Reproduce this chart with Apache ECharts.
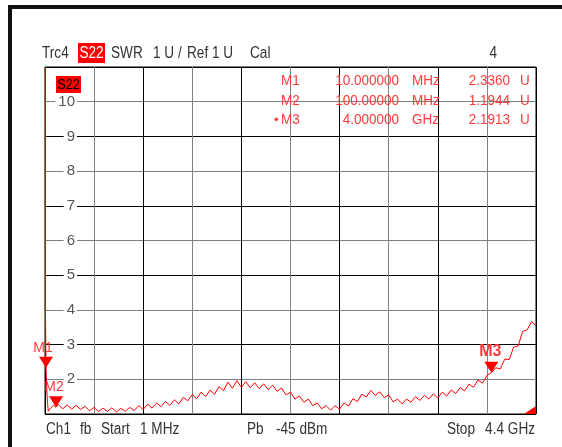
<!DOCTYPE html>
<html>
<head>
<meta charset="utf-8">
<script src="https://cdn.jsdelivr.net/npm/echarts@6/dist/echarts.min.js"></script>
<style>
  html, body { margin: 0; padding: 0; background: #fff; }
  #chart { width: 562px; height: 447px; }
</style>
</head>
<body>
<div id="chart"></div>
<script>
// frequency sweep points, MHz
const freqs = [1, 5, 10, 20, 30, 40, 60, 80, 100,
  120, 160, 200, 240, 280, 320, 360, 400, 440, 480, 520, 560, 600, 640, 680, 720, 760, 800,
  840, 880, 920, 960, 1000, 1040, 1080, 1120, 1160, 1200, 1240, 1280, 1320, 1360, 1400,
  1440, 1480, 1520, 1560, 1600, 1640, 1680, 1720, 1760, 1800, 1840, 1880, 1920, 1960, 2000,
  2040, 2080, 2120, 2160, 2200, 2240, 2280, 2320, 2360, 2400, 2440, 2480, 2520, 2560, 2600,
  2640, 2680, 2720, 2760, 2800, 2840, 2880, 2920, 2960, 3000, 3040, 3080, 3120, 3160, 3200,
  3240, 3280, 3320, 3360, 3400, 3440, 3480, 3520, 3560, 3600, 3640, 3680, 3720, 3760, 3800,
  3840, 3880, 3920, 3960, 4000, 4040, 4080, 4120, 4160, 4200, 4240, 4280, 4320, 4360, 4400]
const swr = [30, 4, 2.336, 1.5, 1.08, 1.05, 1.2, 1.25, 1.19,
  1.27, 1.15, 1.26, 1.14, 1.25, 1.13, 1.22, 1.09, 1.19, 1.07, 1.17, 1.07, 1.18, 1.06, 1.16, 1.08, 1.19, 1.1,
  1.24, 1.13, 1.28, 1.17, 1.32, 1.21, 1.36, 1.25, 1.41, 1.29, 1.48, 1.38, 1.56, 1.44, 1.63,
  1.5, 1.69, 1.57, 1.79, 1.67, 1.92, 1.74, 1.96, 1.77, 1.93, 1.76, 1.9, 1.73, 1.87, 1.7,
  1.83, 1.65, 1.75, 1.55, 1.63, 1.43, 1.52, 1.34, 1.43, 1.24, 1.32, 1.15, 1.24, 1.11, 1.24,
  1.14, 1.32, 1.23, 1.44, 1.36, 1.57, 1.49, 1.68, 1.53, 1.64, 1.47, 1.55, 1.35, 1.43, 1.29,
  1.43, 1.34, 1.5, 1.39, 1.54, 1.43, 1.58, 1.46, 1.63, 1.52, 1.69, 1.59, 1.76, 1.67, 1.86,
  1.77, 1.98, 1.89, 2.11, 2.19, 2.33, 2.3, 2.58, 2.57, 2.93, 2.96, 3.38, 3.42, 3.66, 3.55]

const markerNames = ['M1', 'M2', 'M3']
const markerFreqs = [10, 100, 4000]
const markerVals = [2.336, 1.1944, 2.1913]
const markerFreqText = ['10.000000', '100.00000', '4.000000']
const markerUnit = ['MHz', 'MHz', 'GHz']
const markerValText = ['2.3360', '1.1944', '2.1913']

const RED = '#ff0000'
const TXT_RED = '#ff3a3a'
const FONT = 'Liberation Sans, Arial, sans-serif'

const chart = echarts.init(document.getElementById('chart'))

// narrow, tall instrument font
function txt(text, x, y, opts) {
  opts = opts || {}
  return {
    type: 'text', x: x, y: y, z: 100,
    scaleX: opts.sx || 0.85,
    style: {
      text: text,
      font: (opts.size || 16) + 'px ' + FONT,
      fill: opts.color || '#333',
      textAlign: opts.align || 'left',
      textVerticalAlign: 'middle'
    }
  }
}

const graphics = [
  // instrument frame
  { type: 'rect', shape: { x: 8, y: 5, width: 554, height: 4 }, style: { fill: '#111' } },
  { type: 'rect', shape: { x: 8, y: 5, width: 4, height: 442 }, style: { fill: '#111' } },
  // header
  txt('Trc4', 42, 54),
  { type: 'rect', shape: { x: 78, y: 43, width: 27, height: 20 }, style: { fill: RED } },
  txt('S22', 91.5, 54, { color: '#fff', align: 'center' }),
  txt('SWR', 111, 54),
  txt('1 U /', 153, 54),
  txt('Ref 1 U', 187, 54),
  txt('Cal', 250, 54),
  txt('4', 497, 54, { align: 'right' }),
  // trace label inside plot
  { type: 'rect', shape: { x: 56, y: 76, width: 25, height: 17 }, style: { fill: RED }, z: 99 },
  txt('S22', 68.5, 85, { size: 15, color: '#000', align: 'center' }),
  // footer
  txt('Ch1', 46, 430),
  txt('fb', 80, 430),
  txt('Start', 101, 430),
  txt('1 MHz', 140, 430),
  txt('Pb', 247, 430),
  txt('-45 dBm', 276, 430),
  txt('Stop', 447, 430),
  txt('4.4 GHz', 535, 430, { align: 'right' })
]

// marker readout table
markerNames.forEach((n, i) => {
  const y = 81 + i * 19.5
  const o = { size: 15, sx: 0.9, color: TXT_RED }
  if (i === 2) graphics.push(txt('\u2022', 274, y, { size: 13, sx: 1, color: TXT_RED }))
  graphics.push(txt(n, 281, y, o))
  graphics.push(txt(markerFreqText[i], 399, y, Object.assign({ align: 'right' }, o)))
  graphics.push(txt(markerUnit[i], 412, y, o))
  graphics.push(txt(markerValText[i], 510, y, Object.assign({ align: 'right' }, o)))
  graphics.push(txt('U', 520, y, o))
})

const markData = markerNames.map((n, i) => ({
  name: n,
  coord: [markerFreqs[i], markerVals[i]],
  label: {
    show: true,
    formatter: n,
    position: 'top',
    distance: 2,
    color: TXT_RED,
    fontFamily: FONT,
    fontSize: i === 2 ? 16 : 14,
    fontWeight: i === 2 ? 'bold' : 'normal',
    offset: i === 0 ? [-3, 0] : (i === 1 ? [-2, 0] : [-1, 0])
  }
}))
// off-scale indicator at lower right corner
markData.push({
  name: 'edge',
  coord: [freqs[freqs.length - 1], 1],
  symbol: 'path://M10,0 L10,7 L0,7 Z',
  symbolSize: [12, 8],
  symbolOffset: ['-50%', '-50%'],
  symbolRotate: 0,
  label: { show: false }
})

const option = {
  animation: false,
  backgroundColor: '#fff',
  graphic: graphics,
  grid: {
    left: 45, top: 67, width: 491, height: 347,
    show: true, borderColor: '#000', borderWidth: 1, backgroundColor: 'transparent'
  },
  xAxis: [
    {
      type: 'value', min: 1, max: 4400,
      axisLine: { show: false }, axisTick: { show: false },
      axisLabel: { show: false }, splitLine: { show: false }
    },
    {
      type: 'value', min: 0, max: 10, interval: 1, position: 'bottom',
      axisLine: { show: false }, axisTick: { show: false },
      axisLabel: { show: false },
      splitLine: { show: true, lineStyle: { color: ['#000', '#808080'], width: 1 } }
    }
  ],
  yAxis: {
    type: 'value', min: 1, max: 11, interval: 1,
    axisLine: { show: false }, axisTick: { show: false },
    axisLabel: {
      inside: true, margin: 32, align: 'right',
      showMinLabel: false, showMaxLabel: false,
      color: '#555', fontSize: 15, fontFamily: FONT,
      backgroundColor: '#fff', padding: [0, 2, 0, 3]
    },
    splitLine: { show: true, lineStyle: { color: ['#000', '#808080'], width: 1 } }
  },
  series: [{
    type: 'line',
    xAxisIndex: 0,
    data: freqs.map((f, i) => [f, swr[i]]),
    showSymbol: false,
    symbol: 'none',
    clip: true,
    z: 10,
    lineStyle: { color: RED, width: 1 },
    markPoint: {
      symbol: 'triangle',
      symbolRotate: 180,
      symbolSize: [14, 11],
      symbolOffset: [0, '-50%'],
      itemStyle: { color: RED },
      data: markData
    }
  }]
}
chart.setOption(option)
</script>
</body>
</html>
